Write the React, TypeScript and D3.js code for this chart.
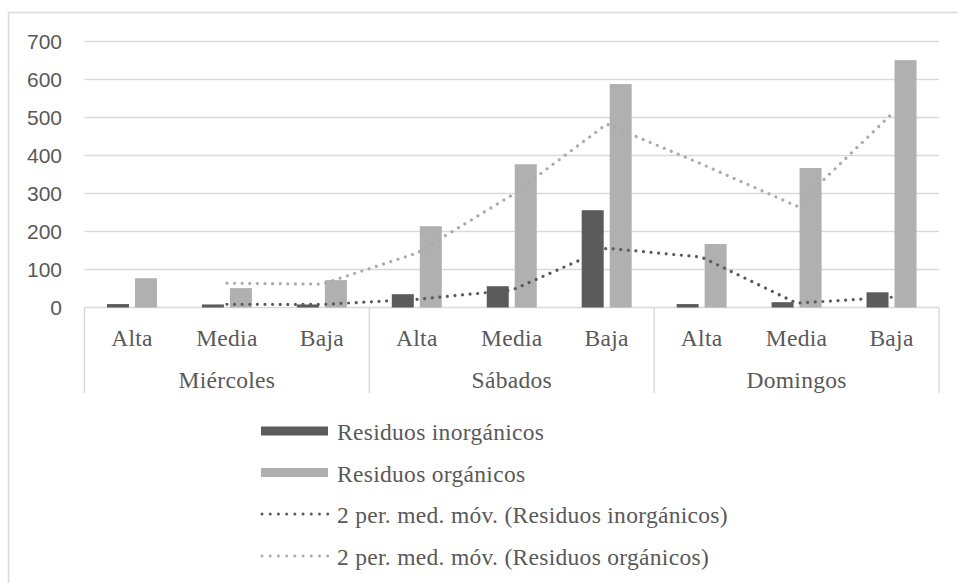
import React from "react";
import * as d3 from "d3";

const groups = ["Miércoles", "Sábados", "Domingos"];
const levels = ["Alta", "Media", "Baja"];
const inorganicos = [9, 8, 8, 35, 56, 256, 9, 14, 40];
const organicos = [77, 51, 72, 214, 377, 588, 167, 367, 651];
const yTicks = [0, 100, 200, 300, 400, 500, 600, 700];
const legendLabels = [
  "Residuos inorgánicos",
  "Residuos orgánicos",
  "2 per. med. móv. (Residuos inorgánicos)",
  "2 per. med. móv. (Residuos orgánicos)",
];

const W = 958;
const H = 583;
const DARK = "#5b5b5b";
const LIGHT = "#b0b0b0";
const MA_DARK = "#5b5b5b";
const MA_LIGHT = "#ababab";
const GRID = "#d9d9d9";
const TEXT = "#595959";
const SERIF = "'Liberation Serif', 'Times New Roman', serif";
const SANS = "'Liberation Sans', Arial, sans-serif";

function movingAvg(vals: number[]): ([number, number] | null)[] {
  return vals.map((v, i) => (i === 0 ? null : [i, (v + vals[i - 1]) / 2]));
}

export default function App() {
  const cats = groups.flatMap((g) => levels.map((l) => `${g}|${l}`));
  const x = d3.scaleBand<string>().domain(cats).range([84.5, 939]).padding(0);
  const gx = d3.scaleBand<string>().domain(groups).range([84.5, 939]).padding(0);
  const y = d3.scaleLinear().domain([0, 700]).range([307.5, 41.5]);
  const barW = 22;
  const gap = 6;
  const cx = (i: number) => (x(cats[i]) as number) + x.bandwidth() / 2;

  const line = d3
    .line<[number, number]>()
    .x((d) => cx(d[0]))
    .y((d) => y(d[1]));

  const maIn = movingAvg(inorganicos).filter(Boolean) as [number, number][];
  const maOr = movingAvg(organicos).filter(Boolean) as [number, number][];

  const legendY = [431, 472.5, 514, 556];
  const dotDash = "0.01 7.6";

  return (
    <svg width={W} height={H} style={{ position: "absolute", left: 0, top: 0 }}>
      <rect x={0} y={0} width={W} height={H} fill="#fff" />
      {/* outer chart border */}
      <path d={`M8.5,${H + 5} V12.5 H${W + 5}`} fill="none" stroke={GRID} strokeWidth={1.5} />
      {/* gridlines */}
      {yTicks.map((t) => (
        <line key={t} x1={84.5} x2={939} y1={y(t)} y2={y(t)} stroke={GRID} strokeWidth={1.5} />
      ))}
      {/* y labels */}
      {yTicks.map((t) => (
        <text
          key={"l" + t}
          x={62}
          y={y(t)}
          dy="0.36em"
          textAnchor="end"
          fontFamily={SANS}
          fontSize={21}
          fill={TEXT}
        >
          {t}
        </text>
      ))}
      {/* category axis box lines */}
      {[...groups.map((g) => gx(g) as number), 939].map((xx, i) => (
        <line key={"v" + i} x1={xx} x2={xx} y1={307.5} y2={393} stroke={GRID} strokeWidth={1.5} />
      ))}
      {/* bars */}
      {cats.map((c, i) => {
        const c0 = cx(i);
        return (
          <g key={c}>
            <rect
              x={c0 - gap / 2 - barW}
              y={y(inorganicos[i])}
              width={barW}
              height={y(0) - y(inorganicos[i])}
              fill={DARK}
            />
            <rect
              x={c0 + gap / 2}
              y={y(organicos[i])}
              width={barW}
              height={y(0) - y(organicos[i])}
              fill={LIGHT}
            />
          </g>
        );
      })}
      {/* moving averages */}
      <path
        d={line(maOr) || ""}
        fill="none"
        stroke={MA_LIGHT}
        strokeWidth={3.2}
        strokeLinecap="round"
        strokeDasharray={dotDash}
      />
      <path
        d={line(maIn) || ""}
        fill="none"
        stroke={MA_DARK}
        strokeWidth={3.2}
        strokeLinecap="round"
        strokeDasharray={dotDash}
      />
      {/* category labels */}
      {cats.map((c, i) => (
        <text
          key={"c" + c}
          x={cx(i)}
          y={346}
          textAnchor="middle"
          fontFamily={SERIF}
          fontSize={23.5}
          letterSpacing={0.3}
          fill={TEXT}
        >
          {levels[i % 3]}
        </text>
      ))}
      {groups.map((g) => (
        <text
          key={"g" + g}
          x={(gx(g) as number) + gx.bandwidth() / 2}
          y={388}
          textAnchor="middle"
          fontFamily={SERIF}
          fontSize={23.5}
          letterSpacing={0.3}
          fill={TEXT}
        >
          {g}
        </text>
      ))}
      {/* legend */}
      {legendLabels.map((lab, i) => {
        const ly = legendY[i];
        return (
          <g key={"lg" + i}>
            {i < 2 ? (
              <rect x={261} y={ly - 4.5} width={67} height={9} fill={i === 0 ? DARK : LIGHT} />
            ) : (
              <line
                x1={262}
                x2={328}
                y1={ly}
                y2={ly}
                stroke={i === 2 ? MA_DARK : MA_LIGHT}
                strokeWidth={3}
                strokeLinecap="round"
                strokeDasharray="0.01 8.2"
              />
            )}
            <text x={337} y={ly + 9} fontFamily={SERIF} fontSize={23.5} letterSpacing={0.3} fill={TEXT}>
              {lab}
            </text>
          </g>
        );
      })}
    </svg>
  );
}
